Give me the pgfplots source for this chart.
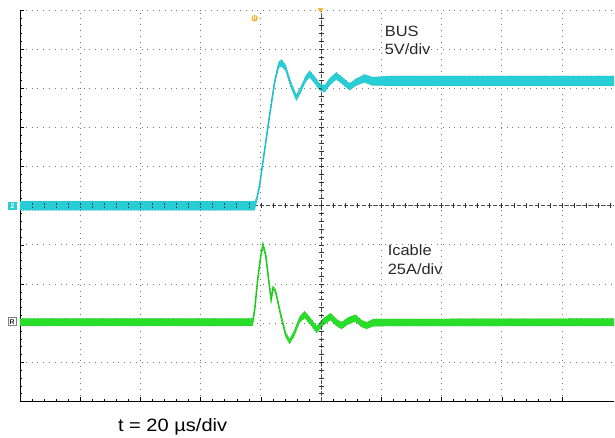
\documentclass[border=0pt]{standalone}
\usepackage{fontspec}
\setmainfont{Liberation Sans}
\usepackage{graphicx}
\usepackage{pgfplots}
\usepackage{pgfplotstable}
\pgfplotsset{compat=1.18}
\usepgfplotslibrary{fillbetween}
\definecolor{cyanT}{RGB}{40,206,214}
\definecolor{cyanD}{RGB}{20,110,120}
\definecolor{greenT}{RGB}{40,222,40}
\definecolor{greenD}{RGB}{20,100,20}
\definecolor{orangeT}{RGB}{240,185,70}
\definecolor{gridC}{RGB}{120,120,120}
\definecolor{txtC}{RGB}{40,40,40}

% BUS voltage trace: x in us, y in divisions, h = half-width of noise band (div)
\pgfplotstableread{
x y h
0 5.000 0.120
77.94 5.000 0.120
78.61 5.153 0.051
79.60 5.536 0.038
81.26 6.429 0.038
82.92 7.321 0.038
84.58 8.163 0.051
85.90 8.597 0.077
86.90 8.648 0.089
88.22 8.520 0.077
89.88 8.112 0.077
91.77 7.755 0.077
93.20 7.959 0.077
94.86 8.240 0.077
96.18 8.367 0.089
97.84 8.214 0.089
99.50 8.036 0.089
101.16 7.985 0.089
102.82 8.163 0.089
105.04 8.316 0.089
107.13 8.189 0.089
109.45 8.036 0.089
111.77 8.163 0.089
114.42 8.253 0.102
117.08 8.176 0.110
122.72 8.189 0.125
197.34 8.189 0.125
}\bus

% Icable current trace
\pgfplotstableread{
x y h
0 2.028 0.094
77.28 2.028 0.094
77.94 2.347 0.038
78.94 3.112 0.038
79.93 3.699 0.038
80.70 4.000 0.064
81.59 3.750 0.051
82.58 3.112 0.038
83.41 2.602 0.038
84.08 2.908 0.038
84.91 2.806 0.038
86.57 2.219 0.051
88.22 1.709 0.064
89.55 1.531 0.064
91.21 1.760 0.077
92.87 2.092 0.077
94.53 2.219 0.089
96.52 2.041 0.089
98.51 1.837 0.089
100.83 2.041 0.089
103.15 2.168 0.089
105.14 2.015 0.089
106.80 1.939 0.089
109.12 2.066 0.089
111.44 2.130 0.089
113.43 1.990 0.089
115.09 1.939 0.089
117.41 2.015 0.094
197.34 2.028 0.094
}\icable

\begin{document}
\begin{tikzpicture}
\path (0,0) rectangle (615bp,438bp);
\begin{axis}[
  at={(20bp,36bp)}, anchor=south west,
  scale only axis, width=595bp, height=392bp,
  xmin=0, xmax=197.34, ymin=0, ymax=10,
  axis lines*=left, axis line style={-, black, line width=0.8bp},
  xtick={0,20,...,180}, ytick={0,1,...,10},
  minor x tick num=4, minor y tick num=4,
  xticklabels={}, yticklabels={},
  tick align=inside, major tick length=4bp, minor tick length=2.5bp,
  tick style={black, line width=0.5bp},
  grid=major, major grid style={gridC, line width=0.8bp, dash pattern=on 0.8bp off 5bp},
  clip=false,
]
% centre cross lines
\draw[gray!60!black, line width=0.6bp, dash pattern=on 4bp off 2bp] (axis cs:100,0) -- (axis cs:100,10);
\draw[gray!60!black, line width=0.6bp, dash pattern=on 4bp off 2bp] (axis cs:0,5) -- (axis cs:197.34,5);
\pgfplotsinvokeforeach{0.2,0.4,...,9.8}{
  \draw[gray!40!black, line width=0.6bp] (axis cs:100,#1) ++(-2.5bp,0) -- ++(5bp,0);
}
\pgfplotsinvokeforeach{4,8,...,196}{
  \draw[gray!40!black, line width=0.6bp] (axis cs:#1,5) ++(0,-2.5bp) -- ++(0,5bp);
}

% BUS trace
\addplot[name path=busU, draw=none] table[x=x, y expr=\thisrow{y}+\thisrow{h}] {\bus};
\addplot[name path=busL, draw=none] table[x=x, y expr=\thisrow{y}-\thisrow{h}] {\bus};
\addplot[cyanT] fill between[of=busU and busL];
\addplot[cyanT, line width=1.6bp] table[x=x, y=y] {\bus};
\addplot[cyanD, opacity=0.6, line width=0.5bp, dash pattern=on 0.8bp off 1.8bp] table[x=x, y expr=\thisrow{y}+\thisrow{h}] {\bus};
\addplot[cyanD, opacity=0.6, line width=0.5bp, dash pattern=on 0.8bp off 2.2bp] table[x=x, y expr=\thisrow{y}-\thisrow{h}] {\bus};

% Icable trace
\addplot[name path=icU, draw=none] table[x=x, y expr=\thisrow{y}+\thisrow{h}] {\icable};
\addplot[name path=icL, draw=none] table[x=x, y expr=\thisrow{y}-\thisrow{h}] {\icable};
\addplot[greenT] fill between[of=icU and icL];
\addplot[greenT, line width=1.6bp] table[x=x, y=y] {\icable};
\addplot[greenD, opacity=0.6, line width=0.5bp, dash pattern=on 0.8bp off 1.8bp] table[x=x, y expr=\thisrow{y}+\thisrow{h}] {\icable};
\addplot[greenD, opacity=0.6, line width=0.5bp, dash pattern=on 0.8bp off 2.2bp] table[x=x, y expr=\thisrow{y}-\thisrow{h}] {\icable};

% channel markers
\node[fill=cyanT, text=white, font=\fontsize{7}{8}\selectfont\bfseries, inner sep=1.2bp, minimum width=9bp, minimum height=8bp] at (axis cs:-2.5,5) {2};
\node[draw=gray, fill=white, text=txtC, font=\fontsize{7}{8}\selectfont\bfseries, inner sep=1bp, minimum width=8bp, minimum height=8bp] at (axis cs:-2.6,2.04) {R};
\node[circle, fill=orangeT, text=white, font=\fontsize{5}{6}\selectfont\bfseries, inner sep=0.6bp, minimum size=6bp] at (axis cs:77.94,9.79) {U};
\fill[orangeT] (axis cs:99.8,10) ++(-3bp,2bp) -- ++(6bp,0) -- ++(-3bp,-5bp) -- cycle;

% annotations
\node[anchor=base west, text=txtC, font=\fontsize{15}{18}\selectfont, inner sep=0] at (axis cs:121.1,9.319) {\scalebox{1.1}[1]{BUS}};
\node[anchor=base west, text=txtC, font=\fontsize{15}{18}\selectfont, inner sep=0] at (axis cs:121.1,8.852) {\scalebox{1.1}[1]{5V/div}};
\node[anchor=base west, text=txtC, font=\fontsize{15}{18}\selectfont, inner sep=0] at (axis cs:122.1,3.724) {\scalebox{1.1}[1]{Icable}};
\node[anchor=base west, text=txtC, font=\fontsize{15}{18}\selectfont, inner sep=0] at (axis cs:122.1,3.240) {\scalebox{1.1}[1]{25A/div}};
\node[anchor=base west, text=black, font=\fontsize{18}{22}\selectfont, inner sep=0] at (axis cs:32.5,-0.758) {\scalebox{1.12}[1]{t = 20 µs/div}};
\end{axis}
\end{tikzpicture}
\end{document}
